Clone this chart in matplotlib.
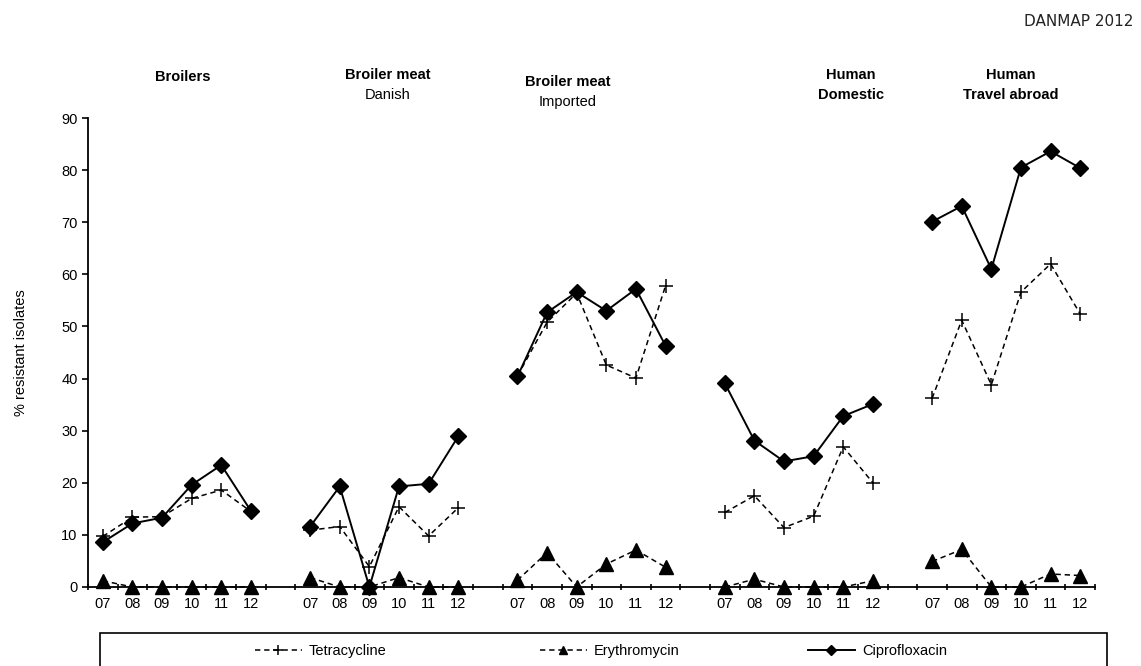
import matplotlib
matplotlib.use("Agg")
import matplotlib.pyplot as plt
from matplotlib.lines import Line2D
from matplotlib.patches import Rectangle

plt.rcParams['font.family'] = ['Liberation Sans', 'DejaVu Sans']

years = ["07", "08", "09", "10", "11", "12"]
groups_bold = ["Broilers", "Broiler meat", "Broiler meat", "Human", "Human"]
groups_sub = ["", "Danish", "Imported", "Domestic", "Travel abroad"]
groups_sub_bold = [False, False, False, True, True]

tetracycline = [
    [9.7, 13.4, 13.5, 17.0, 18.6, 14.5],
    [10.9, 11.6, 3.9, 15.4, 9.8, 15.2],
    [40.5, 50.8, 56.4, 42.6, 40.1, 57.8],
    [14.3, 17.5, 11.4, 13.6, 26.9, 20.0],
    [36.2, 51.2, 38.8, 56.6, 62.0, 52.4],
]
erythromycin = [
    [1.2, 0.0, 0.0, 0.0, 0.0, 0.0],
    [1.8, 0.0, 0.0, 1.8, 0.0, 0.0],
    [1.3, 6.6, 0.0, 4.4, 7.1, 3.8],
    [0.0, 1.5, 0.0, 0.0, 0.0, 1.2],
    [4.9, 7.2, 0.0, 0.0, 2.5, 2.2],
]
ciprofloxacin = [
    [8.6, 12.2, 13.3, 19.6, 23.4, 14.6],
    [11.6, 19.3, 0.0, 19.3, 19.8, 28.9],
    [40.4, 52.7, 56.6, 53.0, 57.2, 46.3],
    [39.1, 28.1, 24.1, 25.1, 32.8, 35.1],
    [70.1, 73.1, 61.0, 80.5, 83.6, 80.4],
]
series_names = ["Tetracycline", "Erythromycin", "Ciprofloxacin"]

W, H = 1141, 666
fig = plt.figure(figsize=(W / 100, H / 100), dpi=100)
ax = fig.add_axes([88 / W, 1 - 587 / H, (1095 - 88) / W, (587 - 118) / H])

n_per = len(years)
step = n_per + 1
fs = 10.5

tet_style = dict(color='black', linestyle=(0, (3.5, 2.5)), linewidth=1.1,
                 marker='+', markersize=10, markeredgewidth=1.1)
ery_style = dict(color='black', linestyle=(0, (3.5, 2.5)), linewidth=1.1,
                 marker='^', markersize=9.5)
cip_style = dict(color='black', linestyle='-', linewidth=1.4,
                 marker='D', markersize=8.5)

xticks = []
xlabels = []
for g in range(len(groups_bold)):
    xs = [g * step + j for j in range(n_per)]
    xticks += xs
    xlabels += years
    ax.plot(xs, tetracycline[g], zorder=3, **tet_style)
    ax.plot(xs, erythromycin[g], zorder=3, clip_on=False, **ery_style)
    ax.plot(xs, ciprofloxacin[g], zorder=4, clip_on=False, **cip_style)

ntot = len(groups_bold) * step - 1
ax.set_xlim(-0.5, ntot - 0.5)
ax.set_ylim(0, 90)
ax.set_xticks(xticks)
ax.set_xticklabels(xlabels, fontsize=fs)
ax.set_xticks([k - 0.5 for k in range(ntot + 1)], minor=True)
ax.tick_params(axis='x', which='major', length=0, pad=7)
ax.tick_params(axis='x', which='minor', length=4, width=1.2, direction='inout')
ax.set_yticks(range(0, 91, 10))
ax.tick_params(axis='y', labelsize=fs, length=4, width=1.2, direction='out')
ax.spines['top'].set_visible(False)
ax.spines['right'].set_visible(False)
ax.spines['left'].set_linewidth(1.3)
ax.spines['bottom'].set_linewidth(1.3)
ax.set_ylabel("% resistant isolates", fontsize=fs, labelpad=24)

# group titles
title_x = [183, 388, 568, 851, 1011]
title_y = [77, 75, 82, 75, 75]
for g in range(len(groups_bold)):
    xf = title_x[g] / W
    yf = 1 - title_y[g] / H
    fig.text(xf, yf, groups_bold[g], ha='center', va='center',
             fontsize=fs, fontweight='bold')
    if groups_sub[g]:
        fig.text(xf, yf - 20 / H, groups_sub[g], ha='center', va='center',
                 fontsize=fs, fontweight='bold' if groups_sub_bold[g] else 'normal')

fig.text(1133 / W, 1 - 22 / H, "DANMAP 2012", ha='right', va='center',
         fontsize=11, family=['DejaVu Sans'], color='#222222')

# legend box
fig.patches.append(Rectangle((100 / W, -0.01), (1107 - 100) / W, (666 - 633) / H + 0.01,
                             transform=fig.transFigure, fill=False,
                             edgecolor='black', linewidth=1.2))
handles = [Line2D([], [], **tet_style), Line2D([], [], **ery_style),
           Line2D([], [], **cip_style)]
leg_x = [255, 540, 808]
for h, name, lx in zip(handles, series_names, leg_x):
    fig.legend([h], [name], loc='center left',
               bbox_to_anchor=(lx / W, 1 - 651 / H), frameon=False,
               fontsize=fs, handlelength=3.2, handletextpad=0.5,
               markerscale=0.65, borderaxespad=0, borderpad=0)

fig.savefig("out.png", dpi=100)
